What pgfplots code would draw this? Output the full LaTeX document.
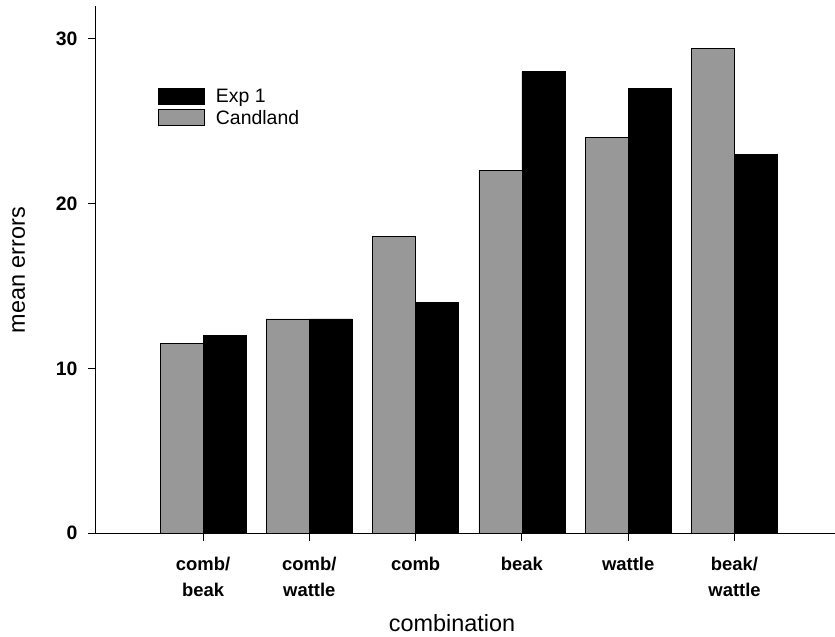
\documentclass[border=0pt]{standalone}
\usepackage{fontspec}
\setmainfont{Liberation Sans}
\usepackage{pgfplots}
\pgfplotsset{compat=1.18}
\definecolor{stipple}{RGB}{152,152,152}

\begin{document}
\begin{tikzpicture}
\useasboundingbox (-96bp,-104bp) rectangle (739bp,533bp);
\begin{axis}[
  at={(0,0)}, anchor=south west,
  scale only axis, width=739bp, height=527bp,
  xmin=-1.007, xmax=5.945, ymin=0, ymax=32,
  axis x line*=bottom, axis y line*=left,
  axis line style={line width=1bp, black},
  ybar, bar width=43bp,
  legend image code/.code={\draw[#1] (0bp,-8bp) rectangle (46bp,8bp);},
  xtick={0,...,5},
  xticklabels={{comb/\\beak},{comb/\\wattle},comb,beak,wattle,{beak/\\wattle}},
  ytick={0,10,20,30},
  tick align=outside, major tick length=8bp,
  tick style={line width=1bp, black},
  /pgf/number format/assume math mode=true,
  ticklabel style={font=\fontsize{18.5}{26}\selectfont\bfseries},
  xticklabel style={align=center, anchor=north, yshift=-13bp},
  yticklabel style={font=\fontsize{19.5}{26}\selectfont\bfseries, anchor=east, xshift=-7bp},
  xlabel={combination},
  ylabel={mean errors},
  xlabel style={at={(axis description cs:0.4817,-0.186)}, anchor=base,
                font=\fontsize{23.5}{26}\selectfont},
  ylabel style={at={(axis description cs:-0.0961,0.499)}, anchor=base, rotate=0,
                font=\fontsize{23.5}{26}\selectfont},
  legend cell align=left,
  legend style={at={(axis description cs:0.0798,0.850)}, anchor=north west,
                draw=none, fill=none, font=\fontsize{19.5}{22}\selectfont,
                row sep=2bp,
                /tikz/every odd column/.append style={column sep=9bp}},
]
% Exp 1 (black, right of each tick)
\addplot[fill=black, draw=black, line width=0.8bp, bar shift=21.5bp]
  coordinates {(0,12) (1,13) (2,14) (3,28) (4,27) (5,23)};
\addlegendentry{Exp 1}
% Candland (stippled grey, left of each tick)
\addplot[fill=stipple, draw=black, line width=0.8bp, bar shift=-21.5bp]
  coordinates {(0,11.5) (1,13) (2,18) (3,22) (4,24) (5,29.4)};
\addlegendentry{Candland}
\end{axis}
\end{tikzpicture}
\end{document}
